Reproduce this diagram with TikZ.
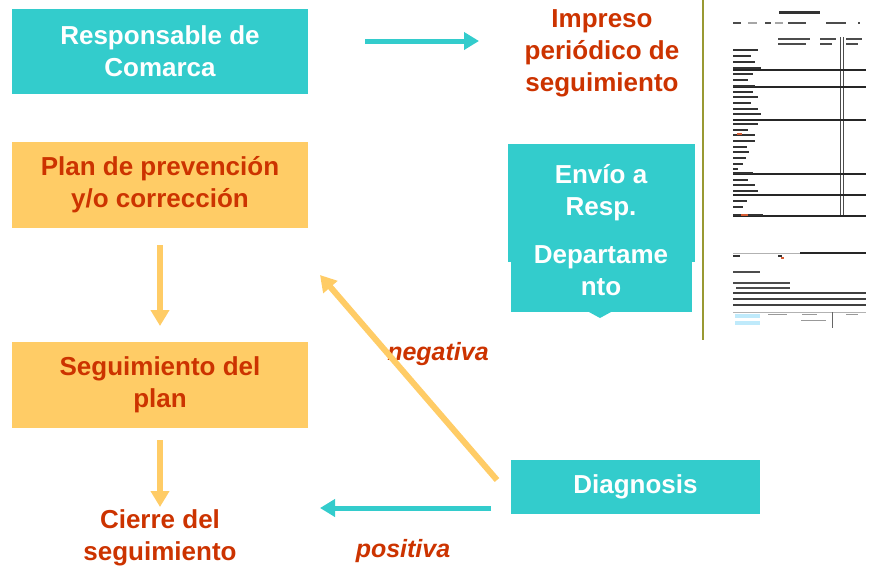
\documentclass[tikz,border=0pt]{standalone}
\usepackage{fontspec}
\setmainfont{Liberation Sans}
\usetikzlibrary{arrows.meta}

\definecolor{teal1}{HTML}{33CCCC}
\definecolor{orange1}{HTML}{FFCC66}
\definecolor{red1}{HTML}{CC3300}
\definecolor{olive1}{HTML}{999933}

\tikzset{
  big/.style={font=\fontsize{26}{32}\selectfont\bfseries, align=center},
  tealbox/.style={big, fill=teal1, text=white, minimum width=296pt, inner sep=0pt},
  orangebox/.style={big, fill=orange1, text=red1, minimum width=296pt, minimum height=86pt, inner sep=0pt},
  redtext/.style={big, text=red1, inner sep=0pt},
  slanted/.style={font=\fontsize{25}{30}\selectfont\bfseries\itshape, text=red1, inner sep=0pt},
  tealarrow/.style={draw=teal1, line width=5pt, -{Triangle[width=17pt,length=15pt]}},
  orangearrow/.style={draw=orange1, line width=6pt, -{Triangle[width=18pt,length=16pt]}},
  formline/.style={line width=1.3pt, black!85},
  fineprint/.style={line width=1.4pt, black!80}
}

\begin{document}
\begin{tikzpicture}[x=1pt, y=-1pt]
\useasboundingbox (0,0) rectangle (884,566);

% left column
\node[tealbox, minimum height=85pt] (resp) at (160,51.5) {Responsable de\\Comarca};
\node[orangebox] (plan) at (160,185) {Plan de prevenci\'on\\y/o correcci\'on};
\node[orangebox] (seg) at (160,384.5) {Seguimiento del\\plan};
\node[redtext] (cierre) at (160,538) {Cierre del\\seguimiento};

% right column
\node[redtext] (impreso) at (602,53) {Impreso\\peri\'odico de\\seguimiento};

\fill[teal1] (508,144) rectangle (695,262);
\fill[teal1] (511,262) rectangle (692,312);
\fill[teal1] (589,312) -- (611,312) -- (600,318) -- cycle;
\node[big, text=white] (envio) at (601,193) {Env\'io a\\Resp.};
\node[big, text=white] (depto) at (601,271) {Departame\\nto};

\node[tealbox, minimum width=249pt, minimum height=54pt] (diag) at (635.5,487) {Diagnosis};

\node[slanted] (neg) at (438,354) {negativa};
\node[slanted] (pos) at (403,551) {positiva};

% arrows
\coordinate (a1) at (365,41);
\coordinate (a2) at (479,41);
\draw[tealarrow] (a1) -- (a2);

\coordinate (b1) at (160,245);
\coordinate (b2) at (160,326);
\draw[orangearrow] (b1) -- (b2);

\coordinate (c1) at (160,440);
\coordinate (c2) at (160,507);
\draw[orangearrow] (c1) -- (c2);

\coordinate (d1) at (491,508);
\coordinate (d2) at (320,508);
\draw[tealarrow] (d1) -- (d2);

\coordinate (e1) at (497,480);
\coordinate (e2) at (320,275);
\draw[orangearrow] (e1) -- (e2);

% the printed form
\draw[olive1, line width=1.2pt] (703,0) -- (703,340);
\fill[black!80] (779,11) rectangle (820,14);
\foreach \x/\w in {733/8, 750/5, 765/6, 788/18, 826/20, 858/2}
  \fill[black!70] (\x,22) rectangle (\x+\w,24);
\fill[black!35] (748,22) rectangle (757,24);
\fill[black!35] (775,22) rectangle (783,24);
\foreach \x/\w in {778/32, 820/16, 846/16}
  {\fill[black!70] (\x,38) rectangle (\x+\w,40);
   \fill[black!70] (\x,43) rectangle (\x+\w-4,45);}
\draw[black!70, line width=1pt] (840,37) -- (840,216);
\draw[black!70, line width=1pt] (843,37) -- (843,216);
\foreach \y in {70,87,120,174,195,216}
  \draw[formline] (733,\y) -- (866,\y);
\foreach \y/\w in {49/25,55/18,61/22,67/28,73/20,79/15,85/22,91/20,
                   96/25,102/18,108/25,113/28,123/25,129/15,134/22,
                   140/22,146/14,151/16,157/13,163/10,168/5,172/20,
                   179/15,184/22,190/25,200/14,206/10,214/30}
  \fill[black!80] (733,\y) rectangle (733+\w,\y+2);
\fill[red1!80] (737,133) rectangle (742,135);
\fill[red1!80] (741,214) rectangle (748,216);

\draw[black!30, line width=1pt] (733,253) -- (800,253);
\draw[formline] (800,253) -- (866,253);
\fill[black!80] (733,255) rectangle (740,257);
\fill[black!80] (778,255) rectangle (782,257);
\fill[red1!80] (781,257) rectangle (784,259);
\fill[black!70] (733,271) rectangle (760,273);
\fill[black!70] (733,282) rectangle (790,284);
\fill[black!70] (736,287) rectangle (790,289);
\foreach \y in {292,298,304}
  \fill[black!75] (733,\y) rectangle (866,\y+2);
\draw[black!30, line width=1pt] (733,312) -- (866,312);
\draw[black!60, line width=0.8pt] (832,312) -- (832,328);
\fill[cyan!25] (735,314) rectangle (760,318);
\fill[cyan!25] (735,321) rectangle (760,325);
\fill[black!40] (768,314) rectangle (787,315);
\fill[black!40] (802,314) rectangle (817,315);
\fill[black!40] (801,320) rectangle (826,321);
\fill[black!40] (846,314) rectangle (858,315);
\end{tikzpicture}
\end{document}
